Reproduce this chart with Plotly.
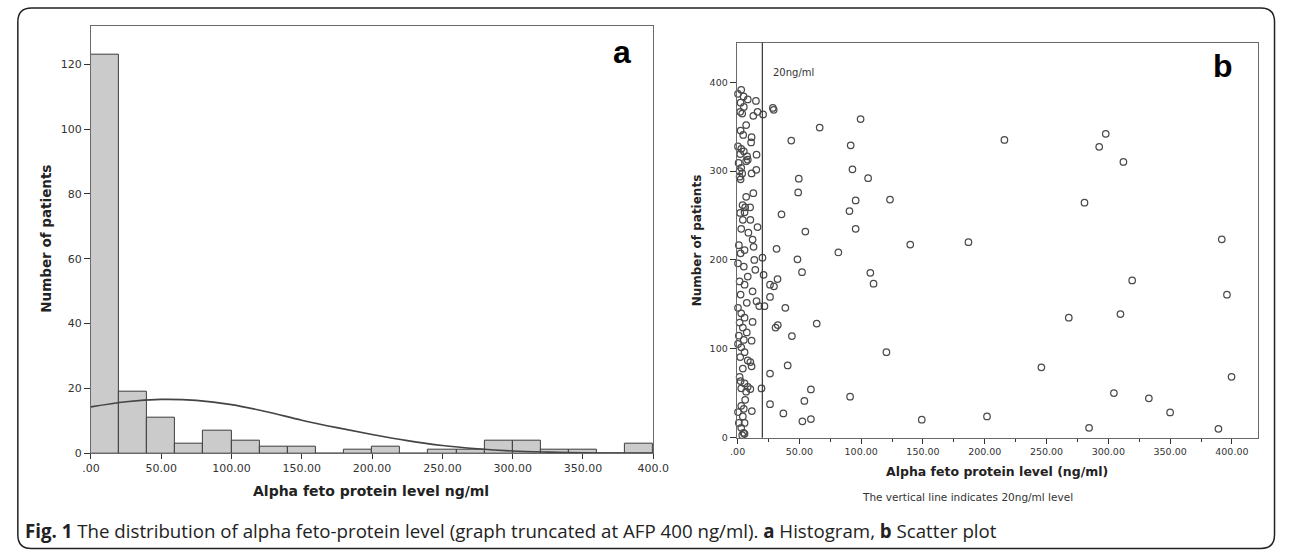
import plotly.graph_objects as go

W, H = 1292, 557

# ---------------- Panel a: histogram ----------------
bin_centers = [10, 30, 50, 70, 90, 110, 130, 150, 170, 190,
               210, 230, 250, 270, 290, 310, 330, 350, 370, 390]
bin_counts = [123, 19, 11, 3, 7, 4, 2, 2, 0, 1,
              2, 0, 1, 1, 4, 4, 1, 1, 0, 3]
curve_x = [0, 25, 50, 75, 100, 125, 150, 175, 200, 225, 250, 275, 300, 325, 350, 375, 400]
curve_y = [14.3, 15.9, 16.6, 16.3, 15.0, 12.8, 10.2, 7.9, 5.8, 3.9, 2.4, 1.4, 0.7, 0.35, 0.15, 0.05, 0.02]
hist_xticks = [0, 50, 100, 150, 200, 250, 300, 350, 400]
hist_xticktext = [".00", "50.00", "100.00", "150.00", "200.00", "250.00", "300.00", "350.00", "400.0"]
hist_yticks = [0, 20, 40, 60, 80, 100, 120]

# ---------------- Panel b: scatter ----------------
afp_level = [
    2.9, 0.3, 4.8, 8.2, 14.8, 2.4, 5.0, 2.1, 3.7, 12.7, 16.1, 20.6, 6.9, 2.4, 4.5, 11.3, 10.9,
    0.3, 2.9, 5.0, 2.1, 7.7, 15.3, 6.9, 8.2, 0.8, 2.9, 1.6, 3.7, 1.6, 2.4, 11.3, 15.1, 6.9, 12.7,
    4.0, 6.1, 10.1, 2.1, 5.6, 4.2, 10.3, 16.1, 2.9, 8.7, 12.1, 12.9, 1.0, 5.6, 2.4, 13.5, 20.1,
    0.3, 5.0, 14.3, 8.2, 21.0, 1.6, 5.6, 12.1, 2.4, 7.4, 15.3, 17.5, 0.3, 2.9, 5.6, 1.6, 12.1,
    4.2, 7.4, 1.0, 5.0, 11.3, 0.3, 2.9, 5.6, 2.1, 8.2, 10.3, 11.3, 4.2, 1.6, 2.4, 5.6, 8.2, 10.3,
    2.9, 6.9, 6.1, 2.9, 5.0, 11.5, 0.3, 4.2, 1.0, 5.6, 2.9, 4.8, 3.7, 5.6, 19.3, 21.7,
    28.5, 29.2, 99.5, 66.4, 43.4, 91.5, 92.9, 105.6, 49.5, 49.0, 95.5, 123.3, 35.5, 90.5, 95.5,
    54.8, 31.5, 139.7, 186.8, 81.5, 48.4, 52.1, 107.4, 110.0, 32.3, 29.4, 26.2, 26.2, 38.6, 32.5,
    30.7, 64.0, 43.9, 120.4, 40.5, 26.2, 26.2, 59.3, 54.0, 91.0, 37.0, 52.4, 59.3, 149.0,
    215.9, 297.9, 292.6, 312.2, 280.7, 391.8, 319.3, 396.0, 268.0, 309.8, 245.8, 399.7, 304.5,
    332.8, 201.8, 350.0, 284.4, 389.1,
]
patient_number = [
    391.4, 387, 384, 380.7, 378.9, 377, 372.2, 366.7, 364.8, 362.2, 366.7, 363.7, 351.8, 345.6, 340.7, 338.1, 332.2,
    327.8, 325.1, 322.2, 319.2, 316.7, 318.4, 311.1, 312.9, 309.2, 303.7, 300, 297.3, 293.7, 290.7, 297.3, 301.4, 271.1, 275.1,
    261.8, 259.2, 259.2, 252.9, 253.7, 245.2, 245.2, 237, 235.1, 230.7, 222.9, 214.8, 216.7, 211.1, 207.4, 200, 202.6,
    196.2, 192.6, 188.9, 181.4, 183.3, 175.9, 172.2, 164.8, 161.1, 151.8, 153.7, 148.1, 146.2, 140, 135.1, 129.6, 130.3,
    124, 118.4, 114.8, 110, 109.2, 105.6, 101.8, 96.2, 90.7, 87, 85.1, 80.3, 77.8, 68.4, 63.7, 61.1, 57.3, 54.8,
    55.6, 51.8, 42.6, 35.9, 32.6, 30, 28.9, 24, 16.7, 16.7, 11.1, 5.6, 2.9, 4.4, 55.5, 148,
    371, 369, 358.5, 349, 334.4, 329, 302, 292, 291.4, 276, 267, 268, 251.4, 255, 235,
    232, 212.5, 217.3, 220, 208.5, 200.7, 186.2, 185.5, 173.3, 178.5, 170.3, 172.2, 158.4, 146.2, 126.7,
    124, 128.5, 114.4, 96.2, 81.4, 72.2, 37.7, 54.4, 41.4, 46.2, 27.4, 18.5, 21, 20.3,
    335, 342, 327.3, 310.3, 264.4, 223.3, 177, 161, 135, 139.2, 79.2, 68.5, 50.3,
    44.4, 24, 28.5, 11.1, 10,
]
scatter_xticks = [0, 50, 100, 150, 200, 250, 300, 350, 400]
scatter_xticktext = [".00", "50.00", "100.00", "150.00", "200.00", "250.00", "300.00", "350.00", "400.00"]
scatter_yticks = [0, 100, 200, 300, 400]
cutoff_level = 20


def fx(p):
    return p / W


def fy(p):
    return 1 - p / H


TICKFONT = dict(family="DejaVu Sans", size=11, color="#333333")
TICKFONT_B = dict(family="DejaVu Sans", size=9.5, color="#333333")

fig = go.Figure()

fig.add_trace(go.Bar(
    x=bin_centers, y=bin_counts, width=20,
    marker=dict(color="#cbcbcb", line=dict(color="#3c3c3c", width=1)),
    xaxis="x", yaxis="y", showlegend=False,
))
fig.add_trace(go.Scatter(
    x=curve_x, y=curve_y, mode="lines",
    line=dict(color="#444444", width=1.6, shape="spline"),
    xaxis="x", yaxis="y", showlegend=False,
))
fig.add_trace(go.Scatter(
    x=afp_level, y=patient_number, mode="markers",
    marker=dict(symbol="circle-open", size=6.5, color="#4a4a4a", line=dict(width=1.25, color="#4a4a4a")),
    cliponaxis=False,
    xaxis="x2", yaxis="y2", showlegend=False,
))

axis_common = dict(showgrid=False, zeroline=False, showline=True, mirror=True,
                   linecolor="#6a6a6a", linewidth=1, ticks="outside", tickcolor="#333333")

fig.update_layout(
    width=W, height=H,
    margin=dict(l=0, r=0, t=0, b=0),
    paper_bgcolor="white", plot_bgcolor="white",
    bargap=0,
    xaxis=dict(domain=[fx(83.5), fx(657)], range=[0, 400], anchor="y",
               tickvals=hist_xticks, ticktext=hist_xticktext, ticklen=5,
               tickfont=TICKFONT, **axis_common),
    yaxis=dict(domain=[fy(459), fy(26)], range=[0, 131.9], anchor="x",
               tickvals=hist_yticks, ticklen=6, tickfont=TICKFONT, **axis_common),
    xaxis2=dict(domain=[fx(742), fx(1274)], range=[-0.8, 421.4], anchor="y2",
                tickvals=scatter_xticks, ticktext=scatter_xticktext, ticklen=5,
                minor=dict(ticks="outside", dtick=25, tick0=0, ticklen=3, tickcolor="#333333"),
                tickfont=TICKFONT_B, **axis_common),
    yaxis2=dict(domain=[fy(443.3), fy(43.3)], range=[0, 444.4], anchor="x2",
                tickvals=scatter_yticks, ticklen=6, tickfont=TICKFONT_B, **axis_common),
)

# vertical reference line at 20 ng/ml
fig.add_shape(type="line", xref="x2", yref="y2 domain", x0=cutoff_level, x1=cutoff_level,
              y0=0, y1=1, line=dict(color="#333333", width=1.2))

# rounded card border
x0, x1 = fx(9), fx(1290.5)
y0, y1 = fy(555.5), fy(8)
rx, ry = 14 / W, 14 / H
path = (f"M {x0+rx},{y1} L {x1-rx},{y1} Q {x1},{y1} {x1},{y1-ry} "
        f"L {x1},{y0+ry} Q {x1},{y0} {x1-rx},{y0} L {x0+rx},{y0} "
        f"Q {x0},{y0} {x0},{y0+ry} L {x0},{y1-ry} Q {x0},{y1} {x0+rx},{y1} Z")
fig.add_shape(type="path", xref="paper", yref="paper", path=path,
              line=dict(color="#222222", width=1.5), fillcolor="rgba(0,0,0,0)")


def ann(text, x, y, size, family="DejaVu Sans", color="#222222", xanchor="center", angle=0):
    fig.add_annotation(text=text, x=fx(x), y=fy(y), xref="paper", yref="paper",
                       showarrow=False, xanchor=xanchor, yanchor="middle", textangle=angle,
                       font=dict(family=family, size=size, color=color))


ann("<b>a</b>", 625, 52.5, 32, family="Liberation Sans, Arial", color="#000000")
ann("<b>b</b>", 1238, 67, 32, family="Liberation Sans, Arial", color="#000000")
ann("<b>Alpha feto protein level ng/ml</b>", 369.5, 497, 14)
ann("<b>Number of patients</b>", 38, 241.5, 13.5, angle=-90)
ann("<b>Alpha feto protein level (ng/ml)</b>", 1007, 477, 12.5)
ann("<b>Number of patients</b>", 702, 243, 12, angle=-90)
ann("The vertical line indicates 20ng/ml level", 977.5, 503, 10.5, color="#333333")
ann("20ng/ml", 777, 73, 10, color="#333333", xanchor="left")
ann("<b>Fig. 1</b> The distribution of alpha feto-protein level (graph truncated at AFP 400 ng/ml). "
    "<b>a</b> Histogram, <b>b</b> Scatter plot",
    14.7, 537, 18.7, family="Open Sans", color="#222222", xanchor="left")

fig.write_html("out.html",
               config={"displayModeBar": False},
               post_script="document.body.style.margin='0';document.body.style.overflow='hidden';")
